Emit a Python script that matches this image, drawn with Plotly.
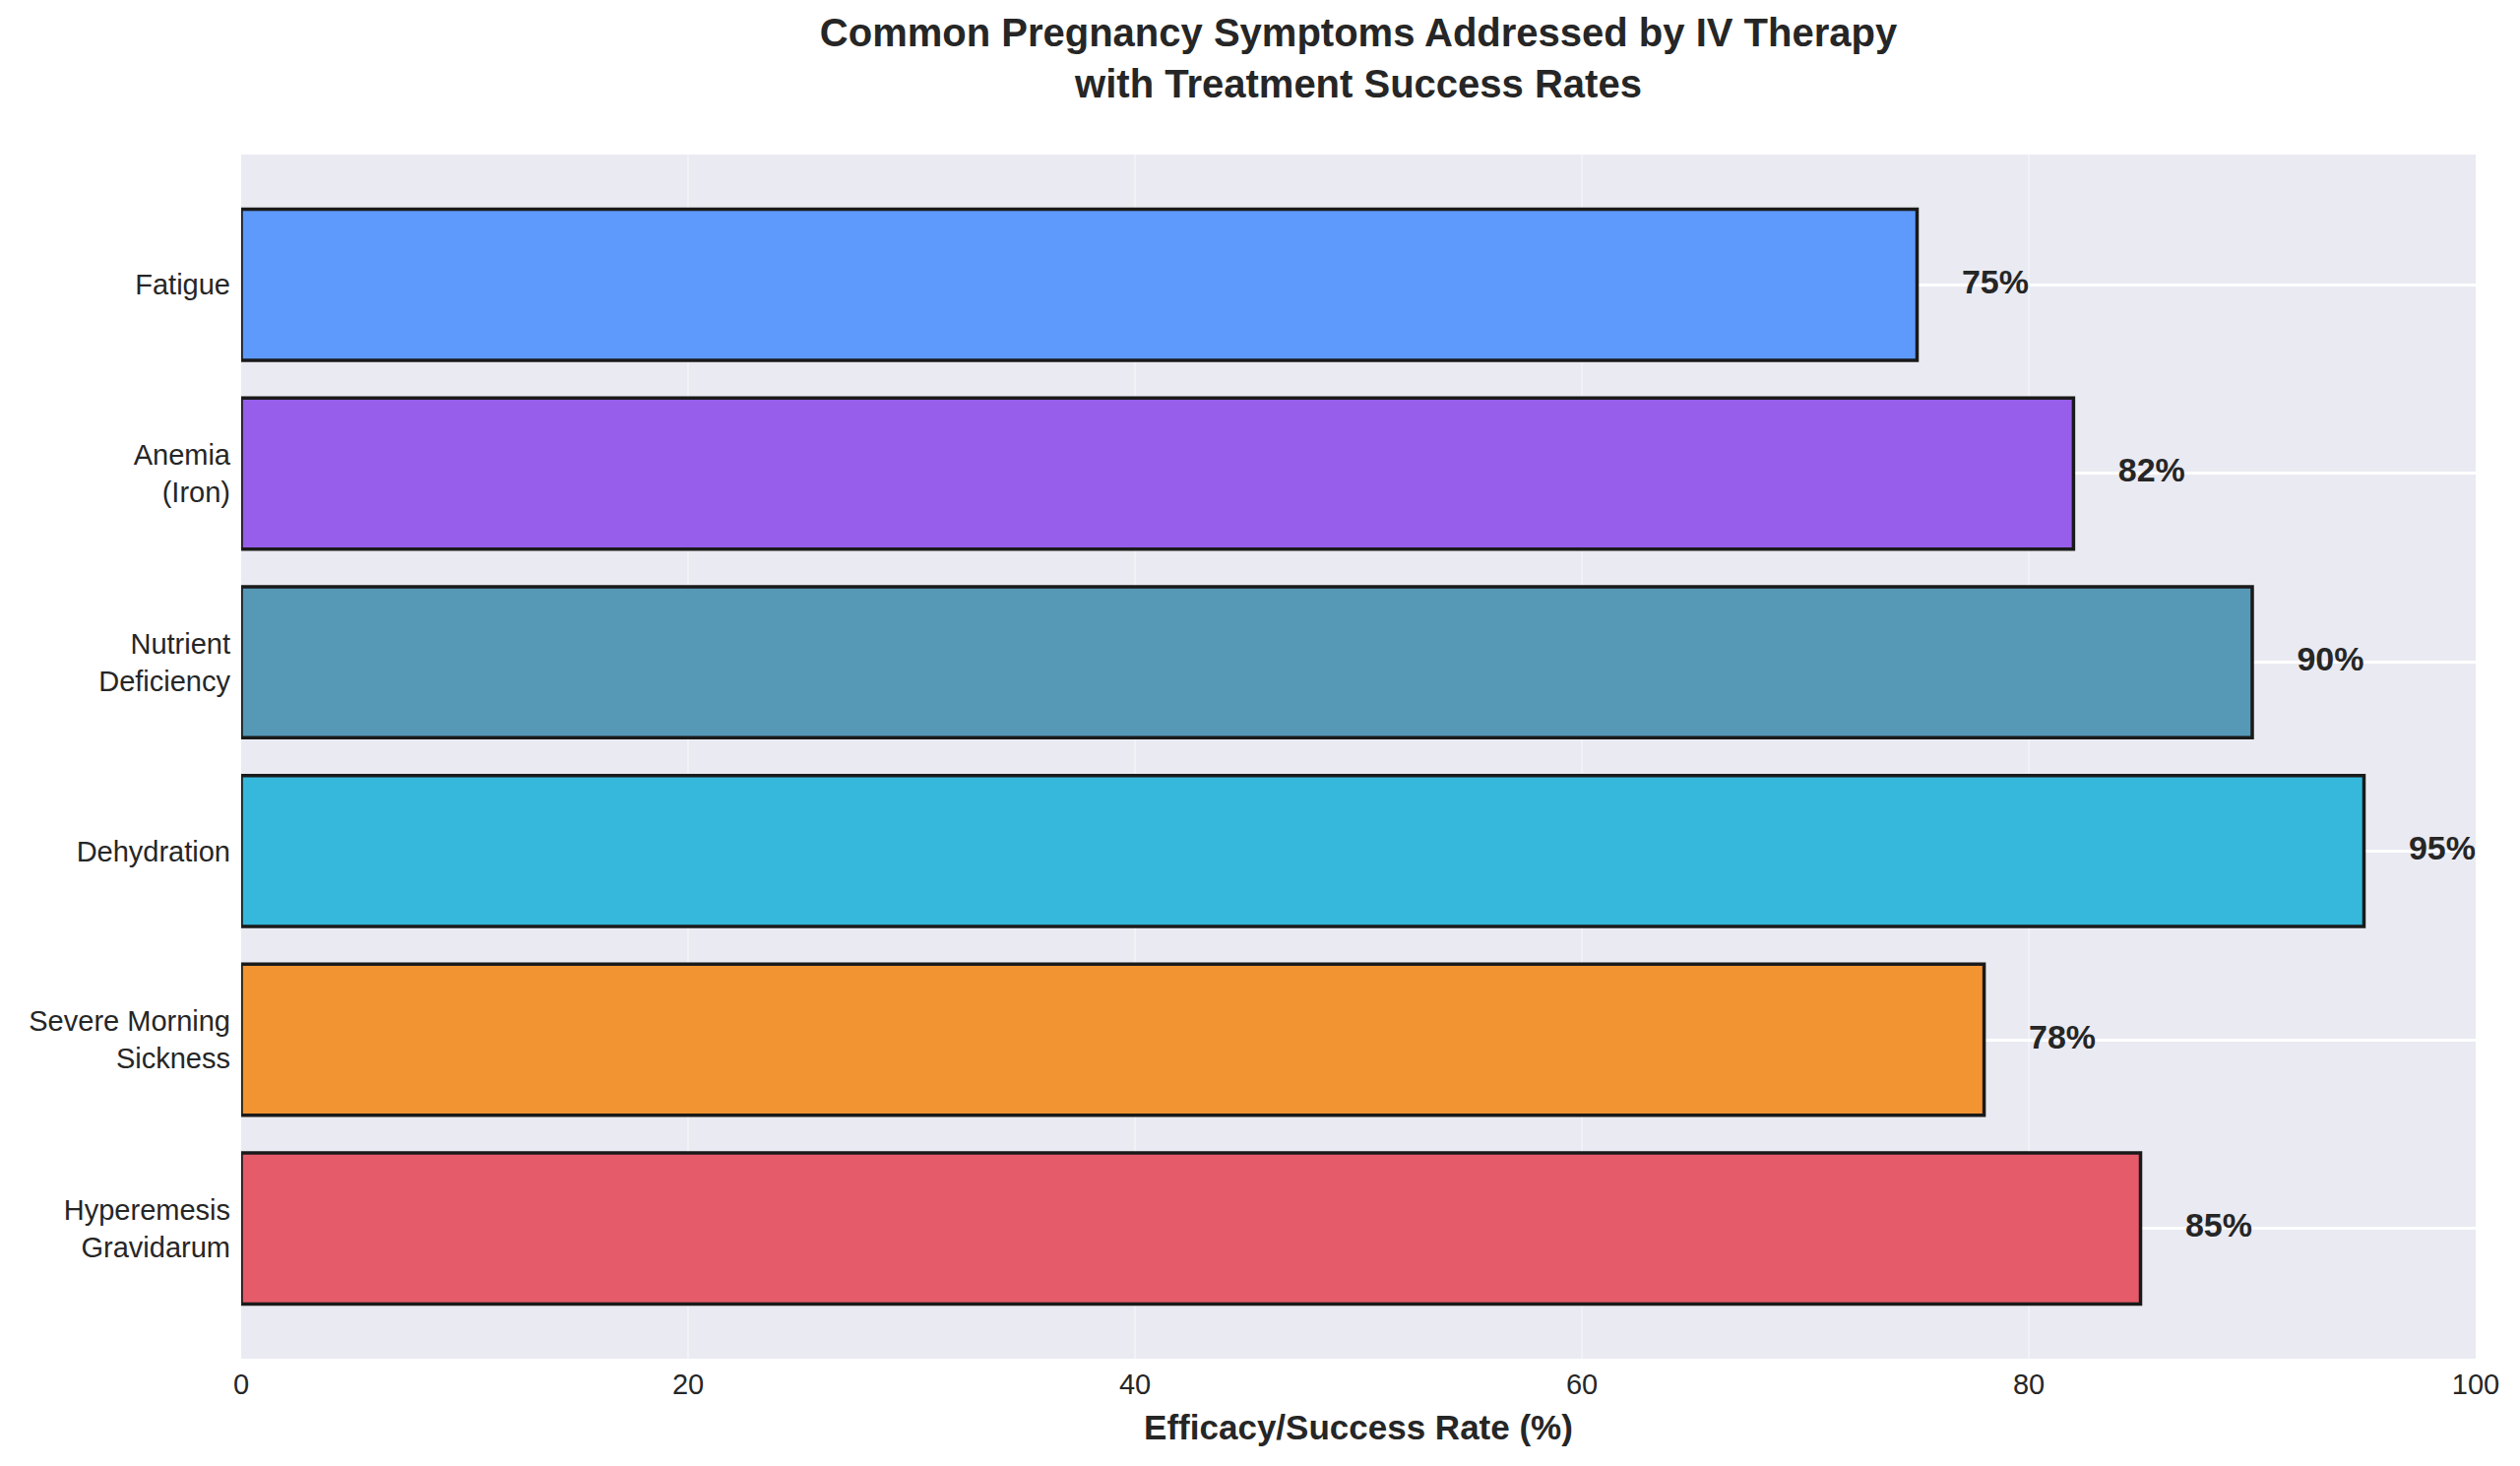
import plotly.graph_objects as go

# data, bottom to top
symptoms = ["Hyperemesis<br>Gravidarum", "Severe Morning<br>Sickness", "Dehydration",
            "Nutrient<br>Deficiency", "Anemia<br>(Iron)", "Fatigue"]
success_rate = [85, 78, 95, 90, 82, 75]
bar_colors = ["#E55B6A", "#F29432", "#35B8DB", "#5599B7", "#965EEB", "#5E9AFC"]

positions = list(range(len(symptoms)))
label_text = [str(v) + "%" for v in success_rate]

fig = go.Figure()

fig.add_trace(go.Bar(
    y=positions,
    x=success_rate,
    orientation="h",
    width=0.8,
    marker=dict(color=bar_colors, line=dict(color="#1a1a1a", width=3.5)),
    showlegend=False,
    hoverinfo="x+y",
))

##### value labels just right of each bar
fig.add_trace(go.Scatter(
    y=positions,
    x=[v + 2 for v in success_rate],
    mode="text",
    text=label_text,
    textposition="middle right",
    textfont=dict(family="Liberation Sans", size=34, color="#262626", weight="bold"),
    showlegend=False,
    hoverinfo="skip",
    cliponaxis=False,
))

fig.update_layout(
    width=2560,
    height=1489,
    autosize=False,
    margin=dict(l=237, r=53, t=149, b=117),
    paper_bgcolor="white",
    plot_bgcolor="#EAEAF2",
    font=dict(family="Liberation Sans", size=29, color="#262626"),
    title=dict(
        text="<b>Common Pregnancy Symptoms Addressed by IV Therapy<br>with Treatment Success Rates</b>",
        x=0.5, xref="paper", xanchor="center",
        y=0.974, yref="container", yanchor="top",
        font=dict(size=40, color="#262626"),
    ),
    bargap=0.2,
)

fig.update_xaxes(
    range=[0, 100],
    tickvals=[0, 20, 40, 60, 80, 100],
    showgrid=True,
    gridcolor="rgba(255,255,255,0.35)",
    gridwidth=1.5,
    zeroline=False,
    showline=False,
    ticks="",
    ticklabelstandoff=6,
    tickfont=dict(size=29),
    title=dict(text="<b>Efficacy/Success Rate (%)</b>", font=dict(size=35), standoff=16),
)

fig.update_yaxes(
    range=[-0.69, 5.69],
    tickvals=positions,
    ticktext=symptoms,
    showgrid=True,
    gridcolor="white",
    gridwidth=2.5,
    zeroline=False,
    showline=False,
    ticks="",
    ticklabelstandoff=10,
    tickfont=dict(size=29),
)

fig.write_html("out.html")
